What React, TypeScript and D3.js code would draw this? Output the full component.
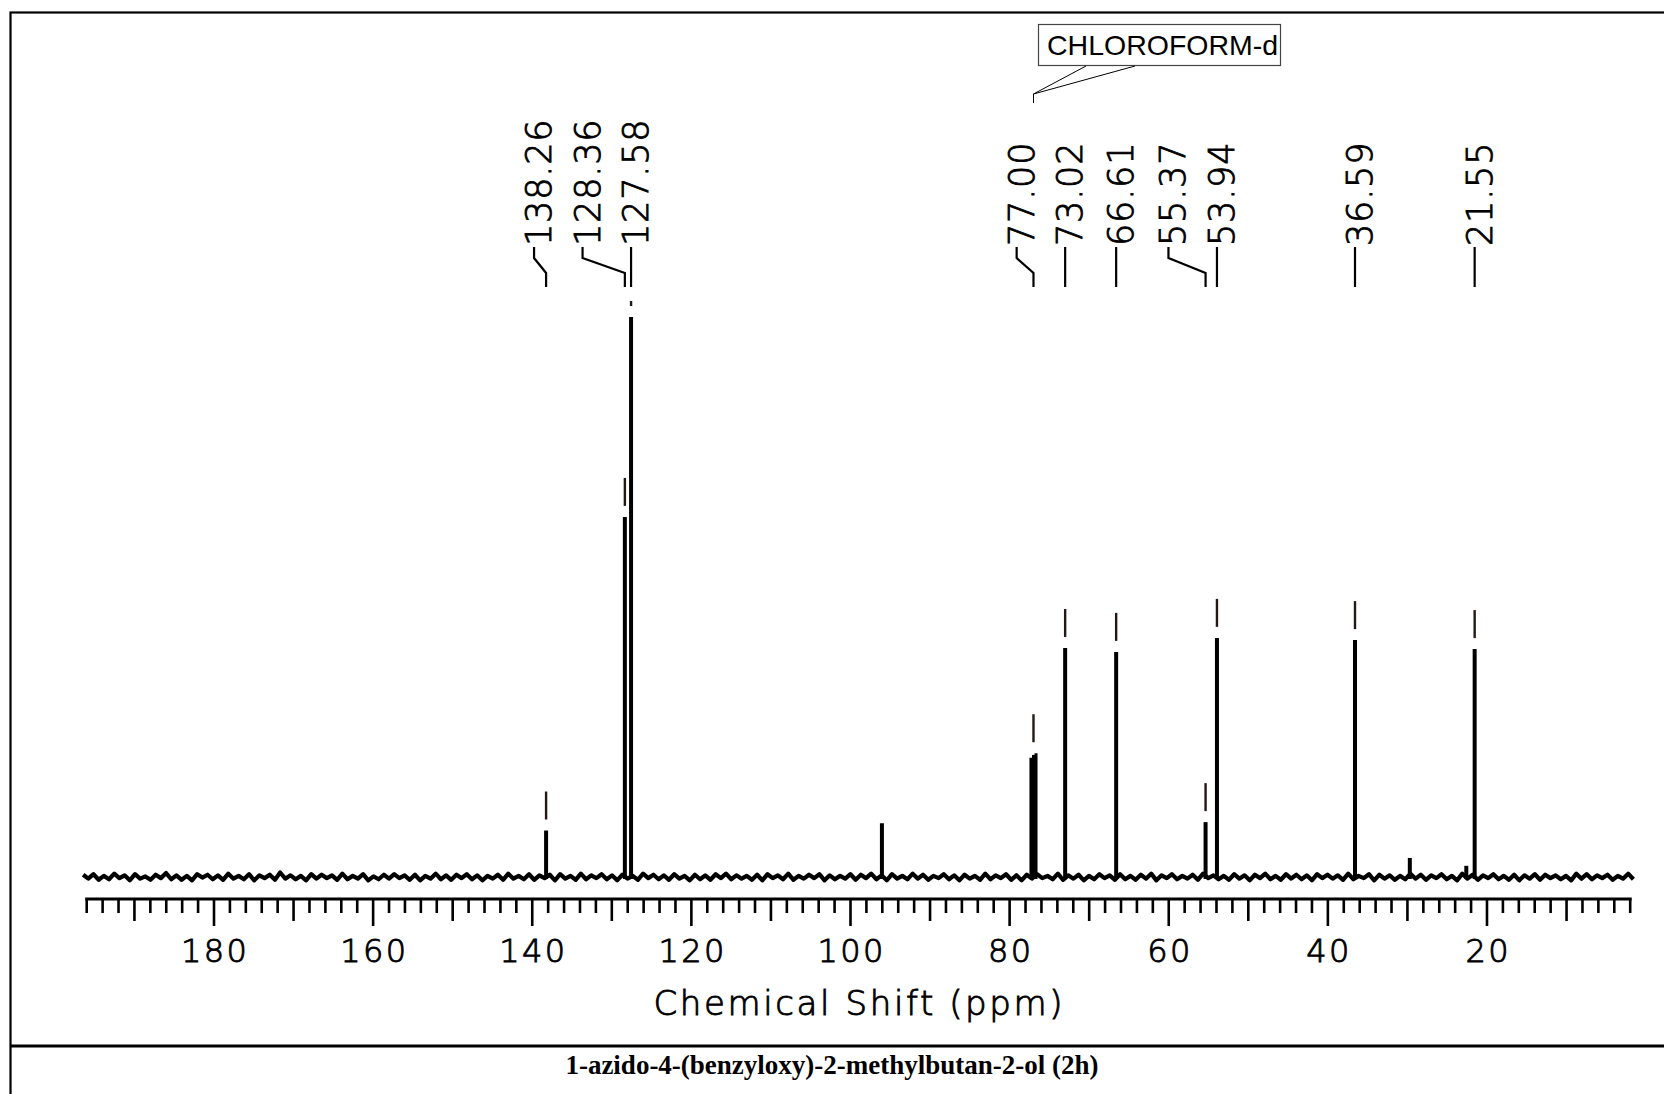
import React from "react";
import * as d3 from "d3";

const W = 1664;
const H = 1094;

// Spectrum peaks (ppm, relative intensity in % of the tallest line)
const peakPpm = [138.26, 128.36, 127.58, 96.05, 77.32, 77.0, 76.68, 73.02, 66.61, 55.37, 53.94, 36.59, 29.7, 22.6, 21.55];
const peakHeight = [8.3, 64.3, 100, 9.6, 21.3, 21.8, 22.1, 40.9, 40.2, 9.8, 42.7, 42.3, 3.4, 2.0, 40.7];

// Peak-picking labels
const labelPpm = [138.26, 128.36, 127.58, 77.0, 73.02, 66.61, 55.37, 53.94, 36.59, 21.55];
const labelText = ["138.26", "128.36", "127.58", "77.00", "73.02", "66.61", "55.37", "53.94", "36.59", "21.55"];
const labelPeakTop = [8.3, 64.3, 100, 22.1, 40.9, 40.2, 9.8, 42.7, 42.3, 40.7];

// Axis ticks
const majorTicks = [180, 160, 140, 120, 100, 80, 60, 40, 20];
const axisTitle = "Chemical Shift (ppm)";
const compoundTitle = "1-azido-4-(benzyloxy)-2-methylbutan-2-ol (2h)";
const solventLabel = "CHLOROFORM-d";
const solventPpm = 77.0;

// Baseline noise (% units), read across the spectrum from left to right
const baselineNoise = [
  0.4, -0.3, 0.5, -0.5, 0.2, -0.4, 0.6, -0.2, 0.3, -0.6, 0.5, -0.3, 0.1, -0.5, 0.4, -0.2, 0.7, -0.4, 0.3, -0.5,
  0.2, -0.6, 0.5, -0.1, 0.4, -0.4, 0.3, -0.5, 0.6, -0.3, 0.2, -0.4, 0.5, -0.6, 0.3, -0.2, 0.4, -0.5, 0.8, -0.3,
  0.3, -0.4, 0.2, -0.6, 0.5, -0.3, 0.4, -0.2, 0.3, -0.5, 0.6, -0.4, 0.2, -0.3, 0.5, -0.6, 0.1, -0.4, 0.4, -0.3,
  0.5, -0.2, 0.3, -0.5, 0.4, -0.6, 0.2, -0.3, 0.6, -0.4, 0.3, -0.5, 0.4, -0.2, 0.5, -0.4, 0.3, -0.6, 0.2, -0.3,
  0.4, -0.5, 0.6, -0.3, 0.2, -0.4, 0.5, -0.5, 0.3, -0.2, 0.4, -0.6, 0.5, -0.3, 0.2, -0.5, 0.6, -0.4, 0.3, -0.2,
  0.5, -0.4, 0.3, -0.6, 0.4, -0.3, 0.2, -0.5, 0.6, -0.2, 0.4, -0.4, 0.3, -0.5, 0.5, -0.3, 0.2, -0.6, 0.4, -0.4,
  0.3, -0.5, 0.5, -0.2, 0.6, -0.4, 0.3, -0.3, 0.2, -0.5, 0.4, -0.6, 0.5, -0.2, 0.3, -0.4, 0.6, -0.5, 0.2, -0.3,
  0.4, -0.2, 0.5, -0.6, 0.3, -0.4, 0.2, -0.3, 0.5, -0.5, 0.4, -0.2, 0.6, -0.4, 0.3, -0.6, 0.5, -0.3, 0.2, -0.4,
  0.6, -0.3, 0.4, -0.5, 0.2, -0.2, 0.5, -0.4, 0.3, -0.6, 0.4, -0.3, 0.2, -0.5, 0.6, -0.4, 0.3, -0.2, 0.5, -0.5,
  0.3, -0.6, 0.4, -0.3, 0.5, -0.2, 0.2, -0.4, 0.6, -0.5, 0.3, -0.3, 0.4, -0.6, 0.2, -0.4, 0.5, -0.2, 0.3, -0.5,
  0.5, -0.4, 0.2, -0.5, 0.4, -0.3, 0.6, -0.6, 0.3, -0.2, 0.5, -0.4, 0.2, -0.3, 0.4, -0.5, 0.6, -0.2, 0.3, -0.4,
  0.2, -0.5, 0.5, -0.3, 0.3, -0.6, 0.4, -0.2, 0.6, -0.4, 0.2, -0.5, 0.5, -0.3, 0.4, -0.4, 0.3, -0.6, 0.5, -0.2,
  0.4, -0.3, 0.3, -0.5, 0.6, -0.4, 0.2, -0.2, 0.5, -0.6, 0.4, -0.3, 0.3, -0.5, 0.2, -0.4, 0.6, -0.3, 0.4, -0.5,
  0.3, -0.2, 0.5, -0.4, 0.2, -0.6, 0.6, -0.3, 0.4, -0.5, 0.3, -0.2, 0.5, -0.4, 0.2, -0.5, 0.4, -0.6, 0.3, -0.3,
  0.5, -0.5, 0.4, -0.2, 0.3, -0.4, 0.2, -0.6, 0.6, -0.3, 0.5, -0.4, 0.3, -0.2, 0.4, -0.5, 0.2, -0.3, 0.6, -0.4,
];

const lightText = {
  fontFamily: "DejaVu Sans",
  fontWeight: 200,
  fill: "#000",
  stroke: "#000",
  strokeWidth: 0.9,
} as const;

export default function App() {
  const x = d3.scaleLinear().domain([196, 2]).range([86.7, 1630.2]);
  const y = d3.scaleLinear().domain([0, 100]).range([877, 317]);

  const axisY = 899;
  const noiseStart = 196.45;
  const noiseEnd = 1.6;
  const noisePts: [number, number][] = baselineNoise.map((v, i) => [
    x(noiseStart - (i * (noiseStart - noiseEnd)) / (baselineNoise.length - 1)),
    y(v),
  ]);
  const noisePath = d3.line()(noisePts) || "";

  const minorTicks = d3.range(196, 1, -2);

  // label layout: right to left, keep a minimum spacing
  const gap = 48.5;
  const order = labelPpm.map((p, i) => i).sort((a, b) => labelPpm[a] - labelPpm[b]);
  const labelX: number[] = new Array(labelPpm.length);
  let prev = Infinity;
  order.forEach((i) => {
    const px = x(labelPpm[i]);
    const lx = Math.min(px, prev - gap);
    labelX[i] = lx;
    prev = lx;
  });

  const connBottom = 287;
  const connMid1 = 273;
  const connMid2 = 258;
  const connTop = 247;

  const solX = x(solventPpm);

  return (
    <svg
      width={W}
      height={H}
      viewBox={`0 0 ${W} ${H}`}
      style={{ position: "absolute", left: 0, top: 0, display: "block", background: "#fff" }}
    >
      <defs>
        <clipPath id="markClip">
          <rect x={0} y={301} width={W} height={600} />
        </clipPath>
      </defs>
      <rect x={0} y={0} width={W} height={H} fill="#fff" />
      {/* outer frame */}
      <rect x={10.5} y={12.5} width={1700} height={1200} fill="none" stroke="#000" strokeWidth={2.2} />
      {/* divider */}
      <line x1={10} x2={W} y1={1046} y2={1046} stroke="#000" strokeWidth={3} />

      {/* baseline noise */}
      <path d={noisePath} fill="none" stroke="#000" strokeWidth={4.2} strokeLinejoin="round" />
      {/* peaks */}
      {peakPpm.map((p, i) => (
        <line
          key={"pk" + i}
          x1={x(p)}
          x2={x(p)}
          y1={y(0) + 2}
          y2={y(peakHeight[i])}
          stroke="#000"
          strokeWidth={p > 76 && p < 78 ? 3 : 4}
        />
      ))}

      {/* peak markers */}
      <g clipPath="url(#markClip)">
        {labelPpm.map((p, i) => (
          <line
            key={"mk" + i}
            x1={x(p)}
            x2={x(p)}
            y1={y(labelPeakTop[i]) - 39}
            y2={y(labelPeakTop[i]) - 11}
            stroke="#231815"
            strokeWidth={2.4}
          />
        ))}
      </g>

      {/* label connectors + labels */}
      {labelPpm.map((p, i) => {
        const px = x(p);
        const lx = labelX[i];
        const d = `M${px},${connBottom}V${connMid1}L${lx},${connMid2}V${connTop}`;
        return (
          <g key={"lb" + i}>
            <path d={d} fill="none" stroke="#000" strokeWidth={2.2} />
            <text
              transform={`translate(${lx + 17},${connTop - 1}) rotate(-90)`}
              {...lightText}
              fontSize={35}
              letterSpacing={0.8}
            >
              {labelText[i]}
            </text>
          </g>
        );
      })}

      {/* solvent callout */}
      <rect x={1038.5} y={24.5} width={242} height={41} fill="#fff" stroke="#444" strokeWidth={1.2} />
      <text x={1047} y={55} fontFamily="Liberation Sans" fontSize={28.5} fill="#000">
        {solventLabel}
      </text>
      <path
        d={`M1086,66L${solX},94L1135,66M${solX},94V103`}
        fill="none"
        stroke="#000"
        strokeWidth={1}
      />

      {/* axis */}
      <line x1={x(196) - 1.5} x2={x(2) + 1.5} y1={axisY} y2={axisY} stroke="#000" strokeWidth={3} />
      {minorTicks.map((t) => {
        const len = t % 20 === 0 ? 27 : t % 10 === 0 ? 22 : 14;
        return (
          <line key={"t" + t} x1={x(t)} x2={x(t)} y1={axisY} y2={axisY + len} stroke="#000" strokeWidth={2.6} />
        );
      })}
      {majorTicks.map((t) => (
        <text
          key={"tl" + t}
          x={x(t) + 1.2}
          y={962}
          textAnchor="middle"
          {...lightText}
          fontSize={32}
          letterSpacing={2.4}
        >
          {t}
        </text>
      ))}
      <text
        x={858}
        y={1015}
        textAnchor="middle"
        {...lightText}
        fontSize={34}
        textLength={409}
        lengthAdjust="spacing"
      >
        {axisTitle}
      </text>

      {/* compound title */}
      <text
        x={832}
        y={1074}
        textAnchor="middle"
        fontFamily="Liberation Serif"
        fontWeight="bold"
        fontSize={27}
        fill="#000"
      >
        {compoundTitle}
      </text>
    </svg>
  );
}
